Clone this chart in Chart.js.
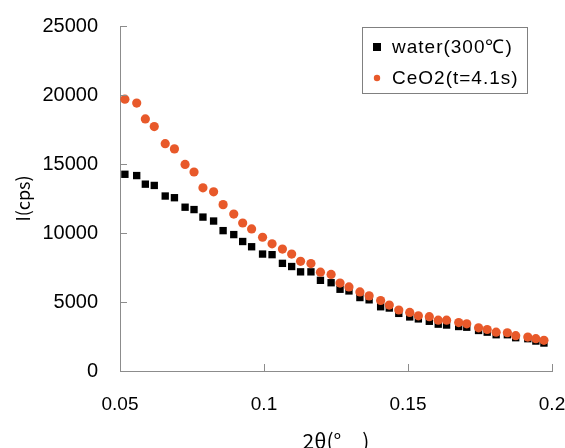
<!DOCTYPE html>
<html>
<head>
<meta charset="utf-8">
<script src="https://cdn.jsdelivr.net/npm/chart.js@4"></script>
<style>
  html, body { margin: 0; padding: 0; background: #fff; }
  #wrap { width: 565px; height: 448px; }
</style>
</head>
<body>
<div id="wrap"><canvas id="chart" width="565" height="448"></canvas></div>
<script>
const twoTheta = [0.0517, 0.0558, 0.0588, 0.0619, 0.0657, 0.0689, 0.0726, 0.0757, 0.0788, 0.0825,
    0.0858, 0.0895, 0.0926, 0.0957, 0.0995, 0.1028, 0.1064, 0.1096, 0.1127, 0.1163,
    0.1196, 0.1233, 0.1264, 0.1295, 0.1333, 0.1365, 0.1405, 0.1435, 0.1468, 0.1506,
    0.1536, 0.1574, 0.1605, 0.1634, 0.1676, 0.1704, 0.1745, 0.1775, 0.1806, 0.1845,
    0.1874, 0.1916, 0.1944, 0.1972];
const water = [14255, 14162, 13539, 13446, 12679, 12557, 11869, 11698, 11153, 10867,
    10172, 9885, 9384, 9004, 8474, 8431, 7800, 7571, 7185, 7185,
    6569, 6397, 5924, 5802, 5322, 5158, 4656, 4563, 4176, 3918,
    3775, 3603, 3395, 3331, 3223, 3173, 2937, 2815, 2629, 2629,
    2414, 2342, 2170, 2027];
const ceo2 = [19699, 19413, 18266, 17715, 16476, 16096, 14971, 14420, 13274, 12987,
    12056, 11368, 10723, 10294, 9692, 9219, 8832, 8474, 7951, 7787,
    7163, 6998, 6375, 6089, 5731, 5444, 5107, 4778, 4420, 4241,
    3997, 3940, 3682, 3682, 3510, 3417, 3130, 3009, 2815, 2772,
    2557, 2457, 2342, 2221];
const xTicks = [0.05, 0.1, 0.15, 0.2];
const yTicks = [0, 5000, 10000, 15000, 20000, 25000];
const seriesLabels = ['water(300\u2103)', 'CeO2(t=4.1s)'];
const xTitle = '2\u03b8(\u00b0\u3000)';
const yTitle = 'I(cps)';

const axisGray = '#8c8c8c';
const orange = '#e8592a';
const sans = '"Liberation Sans", Arial, sans-serif';

const toPoints = (ys) => ys.map((y, i) => ({ x: twoTheta[i], y }));

// inward tick marks, legend box and axis titles
const decorations = {
    id: 'decorations',
    afterDraw(chart) {
        const { ctx, chartArea: a, scales: { x, y } } = chart;
        ctx.save();
        ctx.strokeStyle = axisGray;
        ctx.lineWidth = 1;
        xTicks.forEach(v => {
            const px = Math.round(x.getPixelForValue(v)) + 0.5;
            ctx.beginPath(); ctx.moveTo(px, a.bottom); ctx.lineTo(px, a.bottom - 7); ctx.stroke();
        });
        yTicks.forEach(v => {
            const py = Math.round(y.getPixelForValue(v)) + 0.5;
            ctx.beginPath(); ctx.moveTo(a.left, py); ctx.lineTo(a.left + 7, py); ctx.stroke();
        });

        // legend
        ctx.strokeStyle = '#808080';
        ctx.strokeRect(362.5, 27.5, 165, 66);
        ctx.font = '19px ' + sans;
        ctx.letterSpacing = '1px';
        ctx.textBaseline = 'middle';
        ctx.fillStyle = '#000';
        ctx.fillRect(373, 43, 8, 8);
        ctx.fillText(seriesLabels[0], 392, 48);
        ctx.fillStyle = orange;
        ctx.beginPath(); ctx.arc(377, 78, 3.2, 0, Math.PI * 2); ctx.fill();
        ctx.fillStyle = '#000';
        ctx.fillText(seriesLabels[1], 392, 79);
        ctx.letterSpacing = '0px';

        // axis titles
        ctx.font = '21px "Noto Sans CJK JP", sans-serif';
        ctx.textAlign = 'center';
        ctx.textBaseline = 'top';
        ctx.fillText(xTitle, 336, 431);
        ctx.save();
        ctx.translate(23, (a.top + a.bottom) / 2);
        ctx.rotate(-Math.PI / 2);
        ctx.font = '18px "Noto Sans CJK JP", sans-serif';
        ctx.textBaseline = 'middle';
        ctx.fillText(yTitle, 0, 0);
        ctx.restore();
        ctx.restore();
    }
};

new Chart(document.getElementById('chart').getContext('2d'), {
    type: 'scatter',
    data: {
        datasets: [
            {
                label: seriesLabels[0], data: toPoints(water), order: 2,
                pointStyle: 'rect', pointRadius: 5.2, pointHoverRadius: 5.2,
                backgroundColor: '#000', borderColor: '#000', borderWidth: 0
            },
            {
                label: seriesLabels[1], data: toPoints(ceo2), order: 1,
                pointStyle: 'circle', pointRadius: 4.6, pointHoverRadius: 4.6,
                backgroundColor: orange, borderColor: orange, borderWidth: 0
            }
        ]
    },
    options: {
        responsive: false, animation: false,
        layout: { padding: { top: 22, right: 0, left: 0, bottom: 0 } },
        plugins: { legend: { display: false }, tooltip: { enabled: false } },
        scales: {
            x: {
                type: 'linear', min: 0.05, max: 0.2,
                afterBuildTicks: s => { s.ticks = xTicks.map(v => ({ value: v })); },
                afterFit: s => { s.height = 77; s.paddingRight = 13; s.paddingLeft = 0; },
                grid: { display: false },
                border: { display: true, color: axisGray, width: 1 },
                ticks: { color: '#000', font: { family: sans, size: 19 }, padding: 14, maxRotation: 0,
                    callback: v => String(v) }
            },
            y: {
                type: 'linear', min: 0, max: 25000,
                afterBuildTicks: s => { s.ticks = yTicks.map(v => ({ value: v })); },
                afterFit: s => { s.width = 120; },
                grid: { display: false },
                border: { display: true, color: axisGray, width: 1 },
                ticks: { color: '#000', font: { family: sans, size: 20 }, padding: 14,
                    callback: v => String(v) }
            }
        }
    },
    plugins: [decorations]
});
</script>
</body>
</html>
